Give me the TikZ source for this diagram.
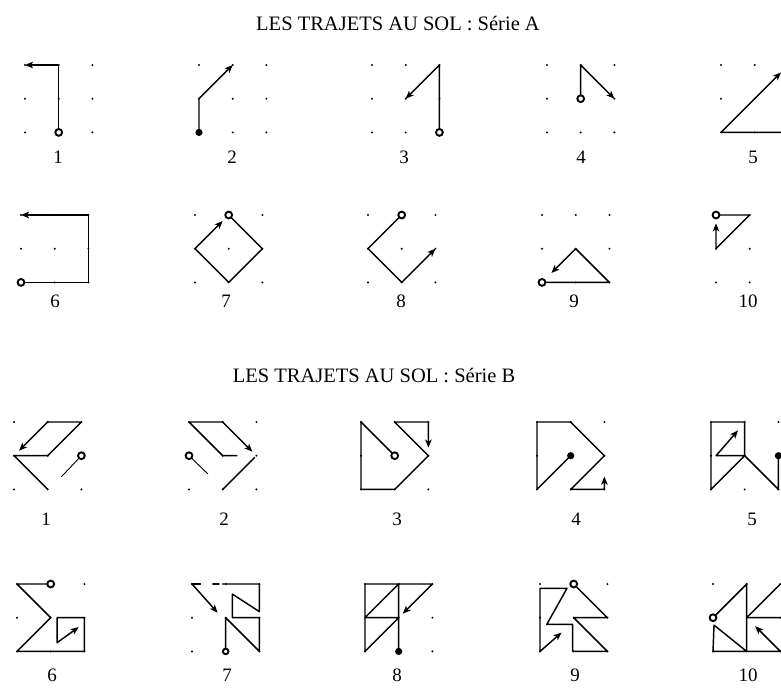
\documentclass[tikz,border=0pt]{standalone}
\usepackage{fontspec}
\setmainfont{Liberation Serif}
\usetikzlibrary{arrows.meta}
\newcommand\dotgrid{\foreach \gi in {0,1,2}{\foreach \gj in {0,1,2}{\fill (\gi,\gj) circle[radius=1.1pt];}}}
\newcommand\startring[1]{\draw[ring] #1 circle[radius=3.4pt];}
\newcommand\startdot[1]{\fill #1 circle[radius=3.6pt];}
\begin{document}
\begin{tikzpicture}[x=1pt,y=-1pt,
  panel/.style={x=33.7pt,y=-33.7pt},
  trail/.style={line width=1.45pt,line join=round,line cap=round},
  thintrail/.style={line width=0.9pt,line cap=round},
  arr/.style={trail,-{Stealth[length=8pt,width=6.5pt,inset=2pt]}},
  ring/.style={line width=1.9pt,fill=white},
  lbl/.style={font=\fontsize{19}{22}\selectfont,anchor=base,inner sep=0pt},
  ttl/.style={font=\fontsize{20.5}{24}\selectfont,anchor=base,inner sep=0pt}]
\useasboundingbox (0,0) rectangle (781,689);
\clip (0,0) rectangle (781,689);

\node[ttl] (titleA) at (398,30) {LES TRAJETS AU SOL : Série A};
\node[ttl] (titleB) at (374,382) {LES TRAJETS AU SOL : Série B};

% ---------- Serie A, row 1 ----------
\begin{scope}[shift={(25,65)},panel]
  \dotgrid
  \draw[arr] (1,2) -- (1,0) -- (0,0);
  \startring{(1,2)}
\end{scope}
\begin{scope}[shift={(199,65)},panel]
  \dotgrid
  \draw[arr] (0,2) -- (0,1) -- (1,0);
  \startdot{(0,2)}
\end{scope}
\begin{scope}[shift={(372,65)},panel]
  \dotgrid
  \draw[arr] (2,2) -- (2,0) -- (1,1);
  \startring{(2,2)}
\end{scope}
\begin{scope}[shift={(547,65)},panel]
  \dotgrid
  \draw[arr] (1,1) -- (1,0) -- (2,1);
  \startring{(1,1)}
\end{scope}
\begin{scope}[shift={(721,65)},panel]
  \dotgrid
  \draw[arr] (2,2) -- (0,2) -- (1.78,0.22);
\end{scope}
\node[lbl] (la1) at (58,163) {1};
\node[lbl] (la2) at (232,163) {2};
\node[lbl] (la3) at (404,163) {3};
\node[lbl] (la4) at (581,163) {4};
\node[lbl] (la5) at (753,163) {5};

% ---------- Serie A, row 2 ----------
\begin{scope}[shift={(21,215)},panel]
  \dotgrid
  \draw[arr] (0,2) -- (2,2) -- (2,0) -- (0,0);
  \startring{(0,2)}
\end{scope}
\begin{scope}[shift={(195,215)},panel]
  \dotgrid
  \draw[arr] (1,0) -- (2,1) -- (1,2) -- (0,1) -- (0.82,0.18);
  \startring{(1,0)}
\end{scope}
\begin{scope}[shift={(368,215)},panel]
  \dotgrid
  \draw[arr] (1,0) -- (0,1) -- (1,2) -- (2,1);
  \startring{(1,0)}
\end{scope}
\begin{scope}[shift={(542,215)},panel]
  \dotgrid
  \draw[arr] (0,2) -- (2,2) -- (1,1) -- (0.28,1.72);
  \startring{(0,2)}
\end{scope}
\begin{scope}[shift={(716,215)},panel]
  \dotgrid
  \draw[arr] (0,0) -- (1,0) -- (0,1) -- (0,0.25);
  \startring{(0,0)}
\end{scope}
\node[lbl] (la6) at (55,307) {6};
\node[lbl] (la7) at (226,307) {7};
\node[lbl] (la8) at (401,307) {8};
\node[lbl] (la9) at (574,307) {9};
\node[lbl] (la10) at (748,307) {10};

% ---------- Serie B, row 1 ----------
\begin{scope}[shift={(14,422)},panel]
  \dotgrid
  \draw[thintrail] (2,1) -- (1.41,1.62);
  \draw[arr] (1,2) -- (0,1) -- (1,1) -- (2,0) -- (1,0) -- (0.15,0.85);
  \startring{(2,1)}
\end{scope}
\begin{scope}[shift={(189,422)},panel]
  \dotgrid
  \draw[thintrail] (0,1) -- (0.56,1.54);
  \draw[trail] (1.95,1.05) -- (1,2);
  \draw[arr] (1.42,1) -- (1,1) -- (0,0) -- (1,0) -- (1.88,0.88);
  \startring{(0,1)}
\end{scope}
\begin{scope}[shift={(361,422)},panel]
  \dotgrid
  \draw[arr] (1,1) -- (0,0) -- (0,2) -- (1,2) -- (2,1) -- (1,0) -- (2,0) -- (2,0.76);
  \startring{(1,1)}
\end{scope}
\begin{scope}[shift={(537,422)},panel]
  \dotgrid
  \draw[arr] (1,1) -- (0,2) -- (0,0) -- (1,0) -- (2,1) -- (1,2) -- (2,2) -- (2,1.62);
  \startdot{(1,1)}
\end{scope}
\begin{scope}[shift={(711,422)},panel]
  \dotgrid
  \draw[arr] (2,1) -- (2,2) -- (1,1) -- (0,2) -- (0,0) -- (1,0) -- (1,1) -- (0.15,1) -- (0.8,0.25);
  \startdot{(2,1)}
\end{scope}
\node[lbl] (lb1) at (46,525) {1};
\node[lbl] (lb2) at (224,525) {2};
\node[lbl] (lb3) at (397,525) {3};
\node[lbl] (lb4) at (576,525) {4};
\node[lbl] (lb5) at (752,525) {5};

% ---------- Serie B, row 2 ----------
\begin{scope}[shift={(17,584)},panel]
  \dotgrid
  \draw[arr] (1,0) -- (0,0) -- (1,1) -- (0,2) -- (2,2) -- (2,1) -- (1.19,1) -- (1.19,1.74) -- (1.83,1.28);
  \startring{(1,0)}
\end{scope}
\begin{scope}[shift={(192,584)},panel]
  \dotgrid
  \draw[trail] (1,2) -- (1,1) -- (2,2) -- (2,1) -- (1.2,1) -- (1.2,0.3) -- (2,0.82) -- (2,0) -- (0.9,0);
  \draw[trail] (0.8,0) -- (0.62,0);
  \draw[trail] (0.25,0) -- (0,0);
  \draw[arr] (0,0) -- (0.76,0.85);
  \draw[ring] (1,2) circle[radius=2.8pt];
\end{scope}
\begin{scope}[shift={(365,584)},panel]
  \dotgrid
  \draw[arr] (1,2) -- (1,1) -- (0,2) -- (0,1) -- (1,1) -- (1,0) -- (0,1) -- (0,0) -- (2,0) -- (1.12,0.88);
  \startdot{(1,2)}
\end{scope}
\begin{scope}[shift={(540,584)},panel]
  \dotgrid
  \draw[arr] (1,0) -- (2,1) -- (1,1) -- (2,2) -- (0.97,2) -- (0.97,1.2) -- (0.2,1.2) -- (0.8,0.13) -- (0,0.13) -- (0,2) -- (0.64,1.44);
  \startring{(1,0)}
\end{scope}
\begin{scope}[shift={(713,584)},panel]
  \dotgrid
  \draw[trail] (0,1) -- (1,0) -- (1,1) -- (2,0);
  \draw[arr] (2,1) -- (1,1) -- (1,2) -- (0.03,1.22) -- (0,2) -- (2,2) -- (1.25,1.25);
  \startring{(0,1)}
\end{scope}
\node[lbl] (lb6) at (52,681) {6};
\node[lbl] (lb7) at (227,681) {7};
\node[lbl] (lb8) at (397,681) {8};
\node[lbl] (lb9) at (575,681) {9};
\node[lbl] (lb10) at (748,681) {10};
\end{tikzpicture}
\end{document}
